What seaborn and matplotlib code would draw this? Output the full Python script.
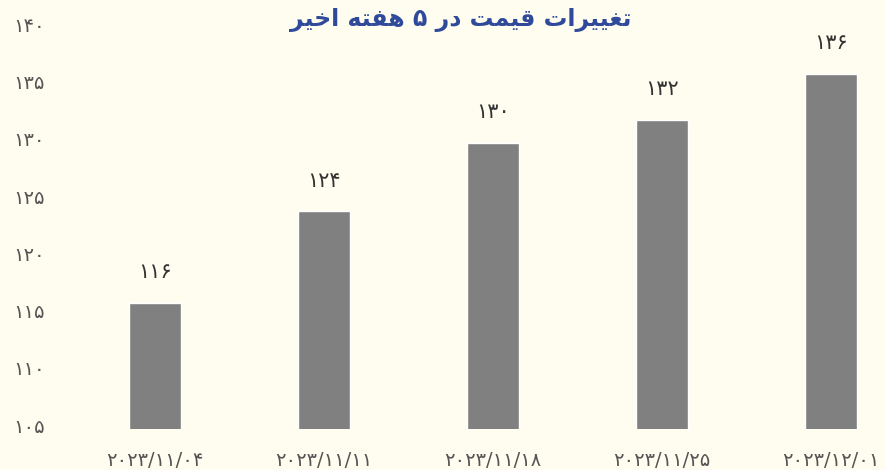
import matplotlib
matplotlib.use('Agg')
import matplotlib.pyplot as plt
import matplotlib.transforms as mtransforms
import seaborn as sns
import pandas as pd

# Data
dates = ['2023/11/04', '2023/11/11', '2023/11/18', '2023/11/25', '2023/12/01']
prices = [116, 124, 130, 132, 136]
y_ticks = [105, 110, 115, 120, 125, 130, 135, 140]

# "تغییرات قیمت در ۵ هفته اخیر" in shaped presentation forms, visual order
title = ('\uFEAE\uFEF4\uFEA7\uFE8D \uFEEA\uFE98\uFED4\uFEEB \u06F5 \uFEAD\uFEA9 '
         '\uFE96\uFEE4\uFEF4\uFED7 \uFE95\uFE8D\uFEAE\uFEF4\uFEF4\uFED0\uFE97')

fa_digits = str.maketrans('0123456789', '۰۱۲۳۴۵۶۷۸۹')


def fa(s):
    return str(s).translate(fa_digits)


df = pd.DataFrame({'date': [fa(d) for d in dates], 'price': prices})

bg = '#FFFDF0'
sns.set_style('white')
plt.rcParams['font.family'] = ['DejaVu Sans']

fig = plt.figure(figsize=(8.87, 4.70), dpi=100, facecolor=bg)
ax = fig.add_axes([60 / 887, 0.087, 827 / 887, 0.853])
ax.set_facecolor(bg)

sns.barplot(data=df, x='date', y='price', color='#808080', width=0.31,
            saturation=1, ax=ax)

ax.set_ylim(105, 140)
ax.set_xlim(-0.562, 4.331)
ax.set_yticks(y_ticks)
ax.set_yticklabels([fa(t) for t in y_ticks])
ax.tick_params(axis='both', length=0, colors='#555555')
ax.tick_params(axis='y', pad=11, labelsize=14)
ax.tick_params(axis='x', pad=16, labelsize=14)
shift = mtransforms.ScaledTranslation(0, 4 / 100, fig.dpi_scale_trans)
for lbl in ax.get_yticklabels():
    lbl.set_transform(lbl.get_transform() + shift)
ax.set_xlabel('')
ax.set_ylabel('')
sns.despine(ax=ax, left=True, bottom=True)

for i, v in enumerate(prices):
    ax.text(i, v + 1.8, fa(v), ha='center', va='bottom', fontsize=15,
            color='#333333')

fig.text(0.52, 0.958, title, ha='center', va='center', fontsize=17,
         fontweight='bold', color='#2F4A9A')

fig.savefig('out.png', dpi=100, facecolor=bg)
